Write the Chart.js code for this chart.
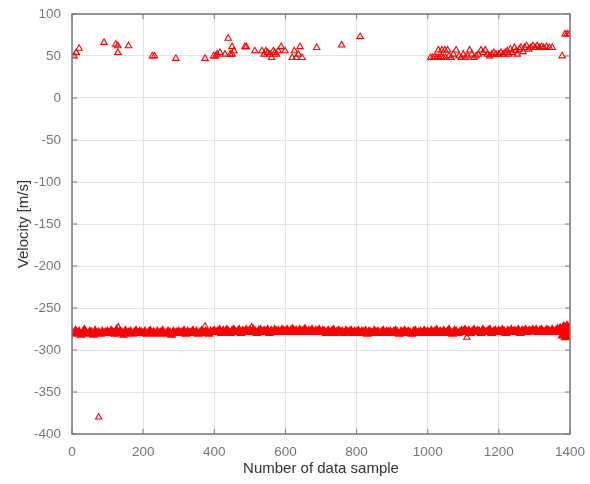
<!DOCTYPE html>
<html>
<head>
<meta charset="utf-8">
<script src="https://cdn.jsdelivr.net/npm/chart.js@4.4.1/dist/chart.umd.min.js"></script>
<style>
  html, body { margin: 0; padding: 0; background: #fff; }
  canvas { display: block; }
</style>
</head>
<body>
<canvas id="velocityChart" width="590" height="484"></canvas>
<script>
// Main velocity band, one reading every 5 samples (x = 0, 5, ..., 1400)
const bandStep = 5;
const bandY = [
  -279,-281,-277,-280,-278,-282,-279,-276,-280,-281,-278,-279,-282,-277,-280,-279,-281,-278,-280,-279,
  -278,-280,-277,-279,-281,-276,-280,-278,-279,-282,-277,-280,-279,-278,-281,-279,-277,-280,-278,-279,
  -280,-278,-281,-279,-277,-280,-279,-281,-278,-280,-279,-277,-281,-280,-278,-279,-282,-278,-280,-279,
  -278,-280,-279,-277,-281,-278,-280,-279,-277,-280,-278,-281,-279,-277,-280,-278,-279,-281,-278,-279,
  -277,-279,-278,-276,-280,-277,-279,-276,-278,-280,-277,-276,-279,-278,-276,-280,-277,-279,-276,-278,
  -277,-279,-276,-278,-280,-277,-276,-279,-277,-278,-276,-280,-277,-279,-276,-278,-277,-279,-276,-277,
  -278,-276,-279,-277,-275,-278,-277,-279,-276,-278,-277,-275,-279,-277,-278,-276,-279,-277,-278,-276,
  -279,-277,-278,-280,-277,-279,-278,-276,-280,-278,-277,-279,-278,-280,-277,-279,-278,-277,-280,-278,
  -279,-277,-280,-278,-279,-277,-281,-278,-279,-280,-277,-279,-278,-280,-279,-277,-280,-278,-279,-278,
  -280,-278,-277,-279,-281,-278,-279,-277,-280,-278,-279,-281,-278,-277,-280,-279,-278,-280,-277,-279,
  -278,-280,-277,-279,-278,-276,-280,-278,-279,-277,-280,-278,-276,-279,-281,-277,-278,-280,-279,-277,
  -278,-276,-279,-277,-280,-278,-276,-279,-277,-278,-280,-276,-278,-279,-277,-276,-280,-278,-277,-279,
  -277,-279,-276,-278,-280,-277,-279,-276,-278,-277,-279,-276,-280,-277,-278,-276,-279,-277,-278,-276,
  -278,-276,-279,-277,-276,-279,-278,-276,-277,-279,-276,-278,-277,-275,-279,-276,-278,-280,-274,-282,
  -276
];

// Extra spread at the end of the record
const bandEndX = [1372, 1378, 1382, 1386, 1388, 1391, 1394, 1397, 1399];
const bandEndY = [-274, -283, -272, -285, -278, -271, -284, -273, -282];

// Isolated readings (upper cluster, stray points, outlier)
const strayX = [
  6, 12, 20, 90, 123, 129, 129, 159, 226, 232, 292,
  374, 398, 404, 408, 416, 430, 439, 445, 450, 450, 455, 486, 490, 514, 534, 540, 545, 550, 556,
  561, 566, 570, 575, 580, 588, 599, 619, 625, 630, 636, 641, 647, 688, 758, 810,
  1008, 1014, 1020, 1026, 1032, 1038, 1044, 1050, 1030, 1040, 1048, 1056, 1060, 1066, 1072, 1080,
  1088, 1094, 1100, 1106, 1112, 1118, 1124, 1130, 1136, 1142, 1150, 1156, 1162, 1168, 1174, 1180,
  1186, 1192, 1200, 1206, 1212, 1218, 1224, 1228, 1232, 1238, 1244, 1248, 1252, 1258, 1262, 1268,
  1272, 1278, 1284, 1290, 1296, 1302, 1308, 1314, 1320, 1326, 1334, 1342, 1350,
  1378, 1386, 1392, 1398,
  130, 374, 505, 1110, 75
];
const strayY = [
  50, 54, 59, 66, 64, 62, 54, 62, 50, 50, 47,
  47, 50, 50, 52, 54, 52, 71, 52, 61, 52, 56, 61, 61, 56, 56, 52, 56, 54, 52,
  48, 56, 54, 52, 56, 61, 56, 48, 56, 48, 52, 61, 48, 60, 63, 73,
  48, 48, 49, 48, 48, 49, 48, 48, 57, 57, 57, 57, 50, 48, 52, 57,
  50, 48, 52, 48, 50, 57, 52, 48, 50, 52, 57, 54, 57, 52, 50, 52,
  54, 52, 52, 54, 52, 54, 56, 52, 58, 54, 60, 56, 52, 58, 60, 55,
  60, 62, 58, 60, 62, 60, 62, 60, 61, 60, 61, 60, 60,
  50, 76, 76, 76,
  -273, -272, -273, -285, -380
];

const xTicks = [0, 200, 400, 600, 800, 1000, 1200, 1400];
const yTicks = [-400, -350, -300, -250, -200, -150, -100, -50, 0, 50, 100];

const RED = '#ff0000';

const bandPoints = bandY.map((v, i) => ({ x: i * bandStep, y: v }))
  .concat(bandEndX.map((x, i) => ({ x: x, y: bandEndY[i] })));
const strayPoints = strayX.map((x, i) => ({ x: x, y: strayY[i] }));

// box frame with inward tick marks on all four sides
const framePlugin = {
  id: 'frame',
  afterDraw(chart) {
    const { ctx, chartArea: a, scales } = chart;
    ctx.save();
    ctx.strokeStyle = '#7a7a7a';
    ctx.lineWidth = 1.5;
    ctx.strokeRect(a.left, a.top, a.right - a.left, a.bottom - a.top);
    ctx.lineWidth = 1;
    ctx.beginPath();
    xTicks.forEach(t => {
      const px = scales.x.getPixelForValue(t);
      ctx.moveTo(px, a.bottom); ctx.lineTo(px, a.bottom - 5);
      ctx.moveTo(px, a.top); ctx.lineTo(px, a.top + 5);
    });
    yTicks.forEach(t => {
      const py = scales.y.getPixelForValue(t);
      ctx.moveTo(a.left, py); ctx.lineTo(a.left + 5, py);
      ctx.moveTo(a.right, py); ctx.lineTo(a.right - 5, py);
    });
    ctx.stroke();
    ctx.restore();
  }
};

const tickFont = { family: 'Liberation Sans', size: 13.5 };
const titleFont = { family: 'Liberation Sans', size: 15 };

new Chart(document.getElementById('velocityChart'), {
  type: 'scatter',
  data: {
    datasets: [
      {
        data: bandPoints,
        pointStyle: 'triangle',
        radius: 4,
        borderWidth: 1.5,
        borderColor: RED,
        backgroundColor: RED
      },
      {
        data: strayPoints,
        pointStyle: 'triangle',
        radius: 3.7,
        borderWidth: 1.1,
        borderColor: RED,
        backgroundColor: 'rgba(255,255,255,0)'
      }
    ]
  },
  options: {
    responsive: false,
    animation: false,
    layout: { padding: { left: 0, top: 14, right: 20, bottom: 0 } },
    plugins: { legend: { display: false }, tooltip: { enabled: false } },
    scales: {
      x: {
        type: 'linear',
        min: 0,
        max: 1400,
        afterFit(scale) {
          scale.height = 50;
          scale.paddingLeft = 0;
          scale.paddingRight = 0;
        },
        afterBuildTicks(scale) { scale.ticks = xTicks.map(v => ({ value: v })); },
        grid: { color: '#e3e3e3', drawTicks: false },
        border: { display: false },
        ticks: { padding: 10, color: '#777', font: tickFont, callback: v => String(v) },
        title: {
          display: true,
          text: 'Number of data sample',
          color: '#333',
          font: titleFont,
          padding: { top: 0, bottom: 6 }
        }
      },
      y: {
        type: 'linear',
        min: -400,
        max: 100,
        afterFit(scale) {
          scale.width = 72;
          scale.paddingTop = 0;
          scale.paddingBottom = 0;
        },
        afterBuildTicks(scale) { scale.ticks = yTicks.map(v => ({ value: v })); },
        grid: { color: '#e3e3e3', drawTicks: false },
        border: { display: false },
        ticks: { padding: 11, color: '#777', font: tickFont, callback: v => String(v) },
        title: {
          display: true,
          text: 'Velocity [m/s]',
          color: '#333',
          font: titleFont,
          padding: { top: 15, bottom: 0 }
        }
      }
    }
  },
  plugins: [framePlugin]
});
</script>
</body>
</html>
